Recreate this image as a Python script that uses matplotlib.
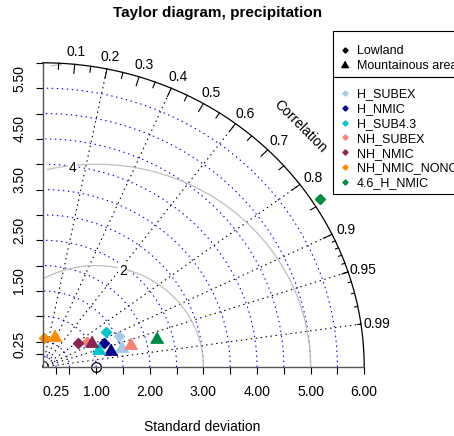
import numpy as np
import matplotlib.pyplot as plt
from matplotlib.transforms import ScaledTranslation
from matplotlib.patches import Rectangle
from matplotlib.lines import Line2D

plt.rcParams['font.family'] = ['Liberation Sans', 'DejaVu Sans']

# model runs and their colours
models = ['H_SUBEX', 'H_NMIC', 'H_SUB4.3', 'NH_SUBEX', 'NH_NMIC', 'NH_NMIC_NONC', '4.6_H_NMIC']
colors = ['#a3cbe8', '#00008b', '#00c5cd', '#fa8072', '#8b2252', '#ff8c00', '#008b45']

# lowland (diamonds): standard deviation and correlation
sd_low = [1.55, 1.23, 1.36, 0.96, 0.81, 0.57, 6.15]
cor_low = [0.918, 0.925, 0.865, 0.854, 0.819, 0.046, 0.842]
# mountainous area (triangles)
sd_mnt = [1.53, 1.31, 1.11, 1.70, 1.03, 0.64, 2.20]
cor_mnt = [0.969, 0.971, 0.954, 0.968, 0.892, 0.362, 0.968]

sd_ref = 1.0
maxsd = 6.0
sd_ticks = [0.25, 0.5, 1.0, 1.5, 2.0, 2.5, 3.0, 3.5, 4.0, 4.5, 5.0, 5.5, 6.0]
x_labels = ['0.25', '', '1.00', '', '2.00', '', '3.00', '', '4.00', '', '5.00', '', '6.00']
y_labels = ['0.25', '', '', '1.50', '', '2.50', '', '3.50', '', '4.50', '', '5.50', '']
sd_arcs = [0.25, 0.5, 1.0, 1.5, 2.0, 2.5, 3.0, 3.5, 4.0, 4.5, 5.0, 5.5]
grad_corr = [0.2, 0.4, 0.6, 0.8, 0.9, 0.95, 0.99]
corr_labels = [0.1, 0.2, 0.3, 0.4, 0.5, 0.6, 0.7, 0.8, 0.9, 0.95, 0.99]
gammas = [2, 4, 6]
region_labels = ['Lowland', 'Mountainous area']

W, H = 454, 436
fig = plt.figure(figsize=(W / 100, H / 100), dpi=100)
# plot region in pixels: origin at (42.6, 367), 53.6 px per unit in x, 50.7 in y
ax = fig.add_axes([42.6 / W, (H - 367) / H, 6.6 * 53.6 / W, 6.6 * 50.7 / H])
ax.set_xlim(0, maxsd * 1.1)
ax.set_ylim(0, maxsd * 1.1)
for s in ['top', 'right']:
    ax.spines[s].set_visible(False)
for s in ['bottom', 'left']:
    ax.spines[s].set_bounds(0, maxsd)
    ax.spines[s].set_color('#555555')
    ax.spines[s].set_linewidth(1.0)

ax.set_xticks(sd_ticks, x_labels)
ax.set_yticks(sd_ticks, y_labels, rotation=90, va='center')
ax.tick_params(axis='both', length=5, width=0.8, color='black', labelsize=10)
ax.tick_params(axis='x', pad=7.9)
ax.tick_params(axis='y', pad=6.6)
for lab in ax.get_yticklabels():
    lab.set_transform(lab.get_transform() + ScaledTranslation(0, 0.10, fig.dpi_scale_trans))

down = ax.transData + ScaledTranslation(0, -0.025, fig.dpi_scale_trans)
dot = (0, (1.3, 3.2))
# correlation rays
for gcl in grad_corr:
    ax.plot([0, maxsd * gcl], [0, maxsd * np.sqrt(1 - gcl ** 2)], color='black',
            lw=0.8, linestyle=dot, clip_on=False)

# standard deviation arcs
t = np.arange(0, np.pi / 2, 0.03)
for r in sd_arcs:
    ax.plot(np.cos(t) * r, np.sin(t) * r, color='blue', lw=0.8, linestyle=dot, clip_on=False)

# centred RMS arcs around the reference
tg = np.arange(0, np.pi, 0.03)
labelpos = [45, 57, 70]
for g, lp in zip(gammas, labelpos):
    xc = np.cos(tg) * g + sd_ref
    yc = np.sin(tg) * g
    keep = (xc >= 0) & (xc ** 2 + yc ** 2 <= maxsd ** 2)
    ax.plot(xc[keep], yc[keep], color='#bebebe', lw=0.9, clip_on=False)
    if xc[lp - 1] > 0:
        ax.text(xc[lp - 1], yc[lp - 1], str(g), fontsize=10, ha='center', va='center',
                transform=down, bbox=dict(fc='white', ec='none', pad=0.5))

# outer arc with correlation ticks
ta = np.linspace(0, np.pi / 2, 200)
ax.plot(np.cos(ta) * maxsd, np.sin(ta) * maxsd, color='black', lw=0.9, clip_on=False)
for vals, frac in [(np.arange(0.1, 0.91, 0.1), 0.97),
                   (np.arange(0.05, 0.96, 0.1), 0.98),
                   (np.arange(0.91, 0.995, 0.01), 0.99)]:
    for ai in np.arccos(vals):
        ax.plot([np.cos(ai) * maxsd, np.cos(ai) * maxsd * frac],
                [np.sin(ai) * maxsd, np.sin(ai) * maxsd * frac],
                color='black', lw=0.8, clip_on=False)
for c in corr_labels:
    a = np.arccos(c)
    ax.text(np.cos(a) * 1.05 * maxsd, np.sin(a) * 1.05 * maxsd, f'{c:g}',
            fontsize=10, ha='center', va='center', transform=down)
ax.text(maxsd * 0.8, maxsd * 0.8, 'Correlation', rotation=-45, fontsize=10,
        ha='center', va='center', rotation_mode='anchor', transform=down)

# reference point
ax.plot(sd_ref, 0, marker='o', ms=7, mfc='none', mec='black', mew=0.9, clip_on=False)

tri = [(0, 1), (-0.866, -0.5), (0.866, -0.5)]
for i in range(len(models)):
    a1 = np.arccos(cor_low[i])
    ax.plot(sd_low[i] * np.cos(a1), sd_low[i] * np.sin(a1), marker='D', ms=4.8,
            color=colors[i], linestyle='none', clip_on=False)
    a2 = np.arccos(cor_mnt[i])
    ax.plot(sd_mnt[i] * np.cos(a2), sd_mnt[i] * np.sin(a2), marker=tri, ms=10.6,
            color=colors[i], linestyle='none', clip_on=False)


# legends, drawn in figure pixels (right edge runs off the figure as in the original)
def px(x, y):
    return x / W, 1 - y / H


def legend_box(top, bottom, rows):
    x0, y0 = px(333.3, bottom)
    fig.add_artist(Rectangle((x0, y0), 140 / W, (bottom - top) / H, transform=fig.transFigure,
                             fc='white', ec='black', lw=0.8))
    for y, label, marker, ms, col in rows:
        mx, my = px(345, y)
        fig.add_artist(Line2D([mx], [my], marker=marker, ms=ms, color=col, linestyle='none',
                              transform=fig.transFigure))
        tx, ty = px(356.7, y + 4.5)
        fig.text(tx, ty, label, fontsize=9, ha='left', va='baseline')


legend_box(31.3, 77.3, [(49.7, region_labels[0], 'D', 2.6, 'black'),
                        (64.7, region_labels[1], tri, 6, 'black')])
legend_box(77.3, 193.7, [(93 + 14.8 * i, m, 'D', 2.6, c)
                         for i, (m, c) in enumerate(zip(models, colors))])

fig.text(217.5 / W, 1 - 17 / H, 'Taylor diagram, precipitation', ha='center',
         va='baseline', fontsize=11, weight='bold')
fig.text(201.7 / W, 1 - 431 / H, 'Standard deviation', ha='center', va='baseline', fontsize=10)

fig.savefig('out.png', dpi=100)
